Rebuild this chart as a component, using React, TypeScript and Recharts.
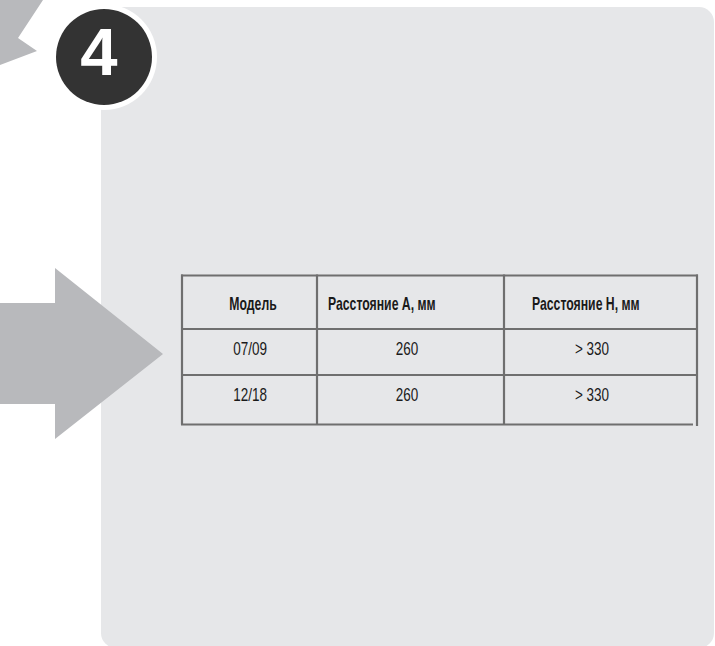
import React from 'react';
import { ScatterChart, Scatter, XAxis, YAxis, ReferenceLine } from 'recharts';

// ---- data ----
const headers = ['Модель', 'Расстояние А, мм', 'Расстояние Н, мм'];
const models = ['07/09', '12/18'];
const distA = ['260', '260'];
const distH = ['> 330', '> 330'];
const stepNumber = '4';

// ---- layout constants ----
const W = 715;
const H = 646;
const colEdges = [182, 317, 504, 697];
const rowEdges = [275.5, 329, 375, 424.5];
const headerTextX = [
  { x: 253, anchor: 'middle' },
  { x: 328, anchor: 'start' },
  { x: 532, anchor: 'start' },
];
const bodyTextX = [250, 407, 592];
const headerBaseline = 34.5;
const bodyBaseline = 25.5;
const FONT = "'Liberation Sans', Arial, sans-serif";
const LINE = '#6f6f6f';

type Cell = { x: number; y: number; label: string; anchor: string; bold: boolean };

const cells: Cell[] = [];
headers.forEach((h, i) => {
  cells.push({ x: headerTextX[i].x, y: rowEdges[0] + headerBaseline, label: h, anchor: headerTextX[i].anchor, bold: true });
});
models.forEach((m, r) => {
  const y = rowEdges[r + 1] + bodyBaseline;
  [m, distA[r], distH[r]].forEach((v, c) => {
    cells.push({ x: bodyTextX[c], y, label: v, anchor: 'middle', bold: false });
  });
});

const CellText = (props: any) => {
  const { cx, cy, payload } = props;
  const sx = payload.bold ? 0.7 : 0.75;
  return (
    <text
      x={0}
      y={0}
      transform={`translate(${cx},${cy}) scale(${sx},1)`}
      textAnchor={payload.anchor}
      fontFamily={FONT}
      fontSize={payload.bold ? 17.5 : 18}
      fontWeight={payload.bold ? 700 : 400}
      fill="#1a1a1a"
    >
      {payload.label}
    </text>
  );
};

const Background = () => (
  <svg width={W} height={H} style={{ position: 'absolute', left: 0, top: 0 }}>
    <rect x={0} y={0} width={W} height={H} fill="#ffffff" />
    <rect x={101} y={7} width={613} height={641} rx={15} ry={15} fill="#e6e7e9" />
    {/* top-left partial arrow */}
    <polygon points="0,0 43,0 18,38 37,51 0,65" fill="#b8b9bc" />
    {/* big arrow */}
    <polygon points="0,303 55,303 55,268 163,354 55,439 55,404 0,404" fill="#b8b9bc" />
    {/* numbered circle */}
    <circle cx={104} cy={57} r={53} fill="#ffffff" />
    <circle cx={104} cy={57} r={48} fill="#333333" />
    <text x={99} y={75} textAnchor="middle" fontFamily="'Liberation Sans', Arial, sans-serif" fontWeight={700} fontSize={67} fill="#ffffff">
      {stepNumber}
    </text>
  </svg>
);

export default function App() {
  const top = rowEdges[0];
  const bottom = rowEdges[rowEdges.length - 1];
  const left = colEdges[0];
  const right = colEdges[colEdges.length - 1];
  return (
    <div style={{ position: 'absolute', left: 0, top: 0, width: W, height: H, overflow: 'hidden' }}>
      <Background />
      <div style={{ position: 'absolute', left: 0, top: 0 }}>
        <ScatterChart width={W} height={H} margin={{ top: 0, right: 0, bottom: 0, left: 0 }}>
          <XAxis type="number" dataKey="x" domain={[0, W]} allowDataOverflow hide />
          <YAxis type="number" dataKey="y" domain={[0, H]} allowDataOverflow reversed hide />
          {colEdges.map((x, i) => (
            <ReferenceLine
              key={`v${i}`}
              segment={[{ x, y: top - 1 }, { x, y: bottom + (i === colEdges.length - 1 ? 1.5 : 0) }]}
              stroke={LINE}
              strokeWidth={2.2}
              ifOverflow="visible"
            />
          ))}
          {rowEdges.map((y, i) => (
            <ReferenceLine
              key={`h${i}`}
              segment={[{ x: left - 1, y }, { x: i === rowEdges.length - 1 ? right - 4 : right + 1, y }]}
              stroke={LINE}
              strokeWidth={2.2}
              ifOverflow="visible"
            />
          ))}
          <Scatter data={cells} dataKey="y" shape={<CellText />} isAnimationActive={false} />
        </ScatterChart>
      </div>
    </div>
  );
}
